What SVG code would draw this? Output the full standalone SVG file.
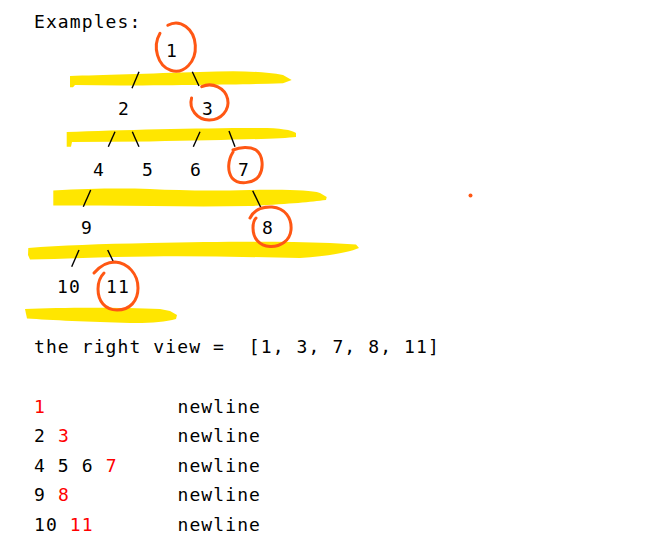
<svg xmlns="http://www.w3.org/2000/svg" width="670" height="553" viewBox="0 0 670 553">
<style>
text{font-family:"DejaVu Sans Mono","Liberation Mono",monospace;font-size:18px;letter-spacing:1.1px;fill:#000;white-space:pre}
.n{text-anchor:middle}
.r{fill:#FF0000}
.hl{fill:#FFE600}
.c{fill:none;stroke:#FF5714;stroke-width:3;stroke-linecap:round}
.e{stroke:#000;stroke-width:1.4;fill:none}
</style>
<rect width="670" height="553" fill="#fff"/>
<g id="highlights">
<path class="hl" d="M70,76 C100,75 150,73.5 200,72 C230,71 260,70.5 283,75 L291.7,80 L283,83.3 C240,84.5 200,85 120,85.5 L75,85 L73,87.3 L70,87.3 Z"/>
<path class="hl" d="M66.7,132 C120,130 200,128 260,128 C280,128 292,130 296,133 L296,137 C280,139 220,140 150,141.5 L72,142 L71,146.7 L66.7,146.7 Z"/>
<path class="hl" d="M53.3,190.5 C90,188.5 120,188 150,189 C180,190.5 210,191 250,190 C290,189.5 310,190 320,193 L326.7,197 L326,200 C310,202 290,204 250,206 C200,207 150,206 100,205.5 L53.3,205.5 Z"/>
<path class="hl" d="M28.3,248 C60,245.5 100,244 150,243 C220,241.5 280,241 330,243 L356,244.5 L359,248 C350,252 330,256 300,258 C250,257 200,256 150,256.5 C100,257 60,259 30,259.5 L28,255 Z"/>
<path class="hl" d="M25,309 C60,307.5 120,307.3 160,309 L170,311 L177,315 L176,319 C165,322 150,323.3 130,323 C90,322 50,320 27,318.5 Z"/>
</g>
<text x="34" y="28">Examples:</text>
<g id="connectors">
<line class="e" x1="139" y1="71.7" x2="132" y2="88.3"/>
<line class="e" x1="192.3" y1="71.7" x2="199" y2="86"/>
<line class="e" x1="115" y1="131.7" x2="108.3" y2="146.7"/>
<line class="e" x1="132.3" y1="131.7" x2="139" y2="146.7"/>
<line class="e" x1="200" y1="131.7" x2="193.3" y2="146.7"/>
<line class="e" x1="229" y1="131" x2="235" y2="146.7"/>
<line class="e" x1="90.7" y1="190" x2="83.3" y2="206.7"/>
<line class="e" x1="252.7" y1="190.7" x2="260.7" y2="207.3"/>
<line class="e" x1="79" y1="250" x2="71.7" y2="266.7"/>
<line class="e" x1="107.7" y1="250" x2="114" y2="263"/>
</g>
<g id="node1"><text class="n" x="172" y="57">1</text>
<path class="c" d="M167.8,25.3 A19.5,24 0 1 1 160,33.2"/></g>
<g id="node2"><text class="n" x="124" y="115">2</text></g>
<g id="node3"><text class="n" x="208" y="115">3</text>
<path class="c" d="M201.7,86.6 A18.5,17.5 0 1 1 191.6,98"/></g>
<g id="node4"><text class="n" x="99" y="176">4</text></g>
<g id="node5"><text class="n" x="148" y="176">5</text></g>
<g id="node6"><text class="n" x="196" y="176">6</text></g>
<g id="node7"><text class="n" x="244" y="176">7</text>
<path class="c" d="M233,150 C240,147 250,146.5 256,150 C263,155 264,168 259,176 C253,184 238,185 232,178 C227,171 228,160 233,152"/></g>
<g id="node9"><text class="n" x="87" y="234">9</text></g>
<g id="node8"><text class="n" x="268" y="234">8</text>
<path class="c" d="M250,218 C254,210 262,206.5 272,207 C285,208 292,218 291,230 C290,241 280,247 270,246.5 C259,246 253,238 253,228 C253,223 254,220 256,218"/></g>
<g id="node10"><text class="n" x="69" y="293">10</text></g>
<g id="node11"><text class="n" x="118" y="293">11</text>
<path class="c" d="M94,273 C100,266 107,262 115,262 C128,263 138,274 138,288 C138,301 130,310 117,310 C105,310 98,301 98,289 C98,281 101,276 104,273"/></g>
<circle cx="470.5" cy="195.5" r="2" fill="#FF5714"/>
<g id="result">
<text x="34" y="353">the right view =  [1, 3, 7, 8, 11]</text>
<text x="34" y="412.5"><tspan class="r">1</tspan></text>
<text x="34" y="442">2 <tspan class="r">3</tspan></text>
<text x="34" y="471.5">4 5 6 <tspan class="r">7</tspan></text>
<text x="34" y="501">9 <tspan class="r">8</tspan></text>
<text x="34" y="530.5">10 <tspan class="r">11</tspan></text>
<text x="177.5" y="412.5">newline</text>
<text x="177.5" y="442">newline</text>
<text x="177.5" y="471.5">newline</text>
<text x="177.5" y="501">newline</text>
<text x="177.5" y="530.5">newline</text>
</g>
</svg>
